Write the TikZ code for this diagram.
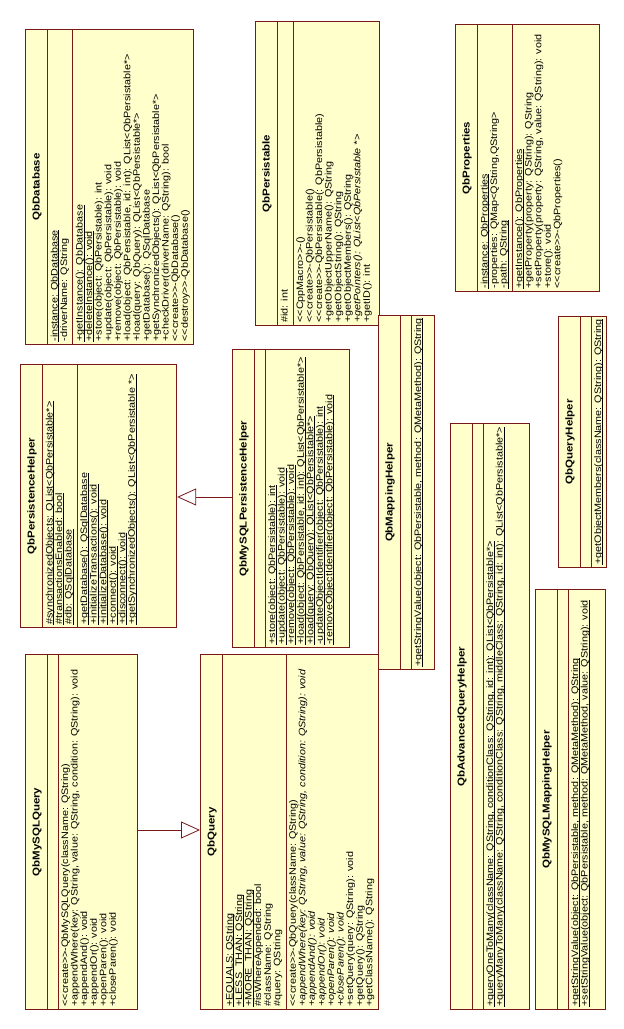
\documentclass[tikz,border=0pt]{standalone}
\usepackage{fontspec}
\setmainfont{Liberation Sans}
\usetikzlibrary{shapes.multipart,arrows.meta}
\definecolor{umlfill}{RGB}{255,255,204}
\definecolor{umlline}{RGB}{120,24,24}
\newcommand\ulx[1]{\setbox0\hbox{#1}\rlap{\rule[-1.6pt]{\wd0}{0.55pt}}\box0}
\newcommand\tl[1]{\begin{tabular}{@{}l@{}}#1\end{tabular}}
\newcommand\ttl[1]{{\fontsize{11.5}{12}\selectfont\bfseries\rule[-6pt]{0pt}{19pt}#1}}
\newcommand\padd[1]{\rule[-#1]{0pt}{0pt}}
\newcommand\lt{<{}<}
\newcommand\gt{>{}>}
\begin{document}
\begin{tikzpicture}[x=1pt,y=1pt,
  umlclass/.style={rectangle split, rectangle split parts=3, draw=umlline, fill=umlfill,
    line width=0.8pt, inner xsep=3pt, inner ysep=3pt,
    rectangle split part align={center,left,left},
    rectangle split empty part height=0.1pt, anchor=north west,
    rotate=90, yscale=0.87,
    font=\fontsize{10.8}{10.55}\selectfont},
  gen/.style={draw=umlline, line width=0.8pt,
    -{Triangle[open, length=19pt, width=17pt, fill=white]}}]
\fill[white] (0,0) rectangle (624,1029);
\useasboundingbox (0,0) rectangle (624,1029);

\node[umlclass, minimum width=315pt] (QbDatabase) at (25,684) {\ttl{QbDatabase}
\nodepart{two}\tl{\ulx{-instance: QbDatabase}\\-driverName: QString}
\nodepart{three}\tl{\ulx{+getInstance(): QbDatabase}\\\ulx{+deleteInstance(): void}\\+store(object: QbPersistable): int\\+update(object: QbPersistable): void\\+remove(object: QbPersistable): void\\+load(object: QbPersistable, id: int): QList<QbPersistable*>\\+load(query: QbQuery): QList<QbPersistable*>\\+getDatabase(): QSqlDatabase\\+getSynchronizedObjects(): QList<QbPersistable*>\\+checkDriver(driverName: QString): bool\\\lt create\gt-QbDatabase()\\\lt destroy\gt-QbDatabase()}};

\node[umlclass, minimum width=304pt] (QbPersistable) at (255,703) {\ttl{QbPersistable}
\nodepart{two}\tl{\#id: int}
\nodepart{three}\tl{\lt CppMacro\gt-()\\\lt create\gt-QbPersistable()\\\lt create\gt-QbPersistable(: QbPersistable)\\+getObjectUpperName(): QString\\+getObjectString(): QString\\+getObjectMembers(): QString\\\textit{+getPointers(): QList<QbPersistable *>}\\+getID(): int\padd{6.9pt}}};

\node[umlclass, minimum width=267pt] (QbProperties) at (455,737) {\ttl{QbProperties}
\nodepart{two}\tl{\ulx{-instance: QbProperties}\\-properties: QMap<QString,QString>\\\ulx{-path: QString}}
\nodepart{three}\tl{\ulx{+getInstance(): QbProperties}\\+getProperty(property: QString): QString\\+setProperty(property: QString, value: QString): void\\+store(): void\\\lt create\gt-QbProperties()\padd{41pt}}};

\node[umlclass, minimum width=263pt] (QbPersistenceHelper) at (20,401) {\ttl{QbPersistenceHelper}
\nodepart{two}\tl{\ulx{\#synchronizedObjects: QList<QbPersistable*>}\\\ulx{\#transactionsEnabled: bool}\\\ulx{\#db: QSqlDatabase}}
\nodepart{three}\tl{\ulx{+getDatabase(): QSqlDatabase}\\\ulx{+initializeTransactions(): void}\\\ulx{+initializeDatabase(): void}\\\ulx{+connect(): void}\\\ulx{+disconnect(): void}\\\ulx{+getSynchronizedObjects(): QList<QbPersistable *>}\padd{44.7pt}}};

\node[umlclass, minimum width=298pt] (QbMySQLPersistenceHelper) at (232,381) {\ttl{QbMySQLPersistenceHelper}
\nodepart{two}
\nodepart{three}\tl{\ulx{+store(object: QbPersistable): int}\\\ulx{+update(object: QbPersistable): void}\\\ulx{+remove(object: QbPersistable): void}\\\ulx{+load(object: QbPersistable, id: int): QList<QbPersistable*>}\\\ulx{+load(query: QbQuery): QList<QbPersistable*>}\\\ulx{-updateObjectIdentifier(object: QbPersistable): int}\\\ulx{-removeObjectIdentifier(object: QbPersistable): void}\padd{16.6pt}}};

\node[umlclass, minimum width=333pt] (QbMappingHelper) at (378,359) {\ttl{QbMappingHelper}
\nodepart{two}
\nodepart{three}\tl{\ulx{+getStringValue(object: QbPersistable, method: QMetaMethod): QString}\padd{11.8pt}}};

\node[umlclass, minimum width=243pt] (QbQueryHelper) at (558,461) {\ttl{QbQueryHelper}
\nodepart{two}
\nodepart{three}\tl{\ulx{+getObjectMembers(className: QString): QString}}};

\node[umlclass, minimum width=355pt] (QbMySQLQuery) at (25,19) {\ttl{QbMySQLQuery}
\nodepart{two}
\nodepart{three}\tl{\lt create\gt-QbMySQLQuery(className: QString)\\+appendWhere(key: QString, value: QString, condition: QString): void\\+appendAnd(): void\\+appendOr(): void\\+openParen(): void\\+closeParen(): void\padd{21.5pt}}};

\node[umlclass, minimum width=355pt] (QbQuery) at (200,19) {\ttl{QbQuery}
\nodepart{two}\tl{\ulx{+EQUALS: QString}\\\ulx{+LESS\_THAN: QString}\\\ulx{+MORE\_THAN: QString}\\\#isWhereAppended: bool\\\#className: QString\\\#query: QString}
\nodepart{three}\tl{\lt create\gt-QbQuery(className: QString)\\\textit{+appendWhere(key: QString, value: QString, condition: QString): void}\\\textit{+appendAnd(): void}\\\textit{+appendOr(): void}\\\textit{+openParen(): void}\\\textit{+closeParen(): void}\\+setQuery(query: QString): void\\+getQuery(): QString\\+getClassName(): QString}};

\node[umlclass, minimum width=585pt] (QbAdvancedQueryHelper) at (450,19) {\ttl{QbAdvancedQueryHelper}
\nodepart{two}
\nodepart{three}\tl{\ulx{+queryOneToMany(className: QString, conditionClass: QString, id: int): QList<QbPersistable*>}\\\ulx{+queryManyToMany(className: QString, conditionClass: QString, middleClass: QString, id: int): QList<QbPersistable*>}\padd{27.8pt}}};

\node[umlclass, minimum width=420pt] (QbMySQLMappingHelper) at (535,19) {\ttl{QbMySQLMappingHelper}
\nodepart{two}
\nodepart{three}\tl{\ulx{+getStringValue(object: QbPersistable, method: QMetaMethod): QString}\\\ulx{+setStringValue(object: QbPersistable, method: QMetaMethod, value: QString): void}\padd{17pt}}};

\coordinate (g1) at (0,532);
\coordinate (g2) at (0,199);
\draw[gen] (QbMySQLPersistenceHelper.north |- g1) -- (QbPersistenceHelper.south |- g1);
\draw[gen] (QbMySQLQuery.south |- g2) -- (QbQuery.north |- g2);
\end{tikzpicture}
\end{document}
